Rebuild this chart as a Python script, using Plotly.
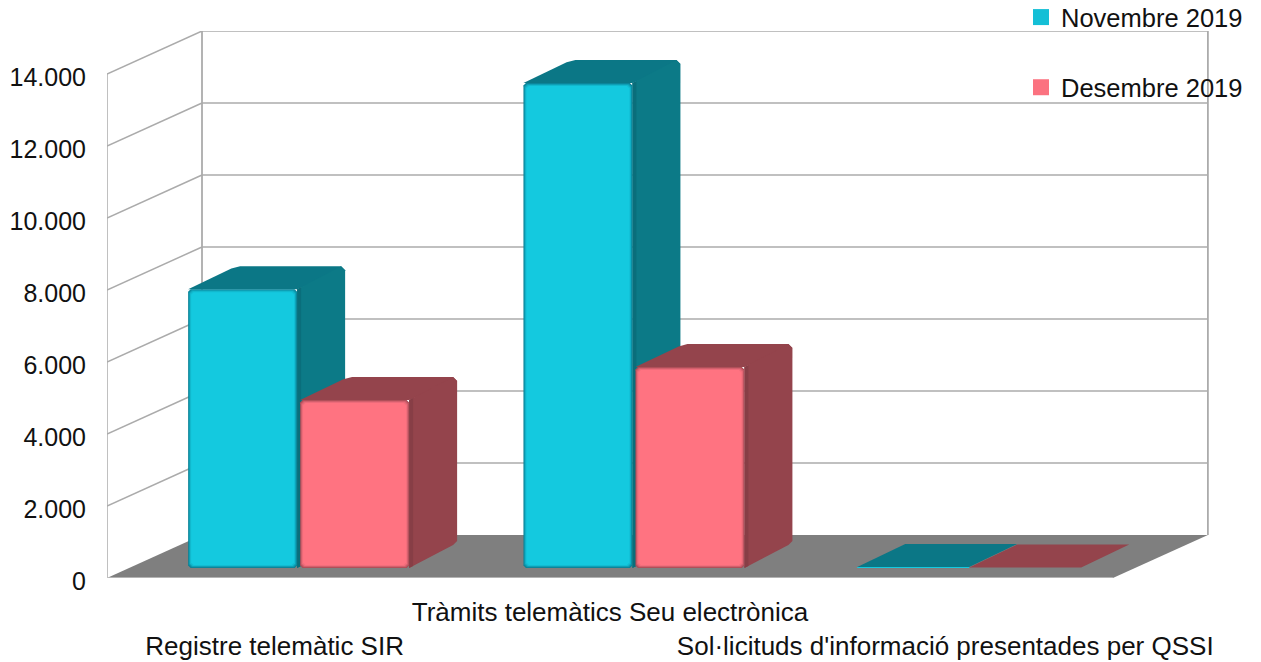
import plotly.graph_objects as go

# Chart data
categories = ["Registre telemàtic SIR", "Tràmits telemàtics Seu electrònica",
              "Sol·licituds d'informació presentades per QSSI"]
nov_2019 = [7745, 13470, 30]
des_2019 = [4665, 5580, 10]
y_ticks = [0, 2000, 4000, 6000, 8000, 10000, 12000, 14000]
y_tick_labels = ["0", "2.000", "4.000", "6.000", "8.000", "10.000", "12.000", "14.000"]

# Plot box and oblique projection
WIDTH, HEIGHT = 1261, 662
LEFT, RIGHT_EDGE, TOP, BOTTOM = 107, 1209, 31, 578
PX_PER_CAT = 335.3
PX_PER_VAL = 0.036
DEPTH_X = 95 / PX_PER_CAT     # horizontal shift of the back wall, in category units
DEPTH_V = 43 / PX_PER_VAL     # vertical shift of the back wall, in value units
N_CATS = 3
FONT = "Liberation Sans"
GRID = "#ababab"

BAR_D0 = 0.233                # depth at which the bars' front faces stand
BAR_DX = 48 / PX_PER_CAT      # horizontal reach of a bar's side face
BAR_DV = 23 / PX_PER_VAL      # vertical reach of a bar's top face
BAR_W = 0.325
SERIES_OFFSET = [0.176, 0.510]

STYLES = [
    dict(name="Novembre 2019", legend="#14bfd6",
         front=["#0b8194", "#0d95aa", "#10aac0", "#12bcd2", "#14c9df"],
         top="#0b7786", side="#0c7a87", shade="#0a6e7b"),
    dict(name="Desembre 2019", legend="#fb7280",
         front=["#a94c56", "#c65a66", "#de6573", "#f26e7c", "#ff7381"],
         top="#94444c", side="#94444c", shade="#873e46"),
]


def proj(u, v, d):
    return u + d * DEPTH_X, v + d * DEPTH_V


def px_u(p):
    return p / PX_PER_CAT


def px_v(p):
    return p / PX_PER_VAL


def polygon(points, color):
    xs = [p[0] for p in points] + [points[0][0]]
    ys = [p[1] for p in points] + [points[0][1]]
    return go.Scatter(x=xs, y=ys, mode="lines", fill="toself", fillcolor=color,
                      line=dict(color=color, width=0),
                      hoverinfo="skip", showlegend=False)


def segment(p, q, color=GRID, width=1.5):
    return go.Scatter(x=[p[0], q[0]], y=[p[1], q[1]], mode="lines",
                      line=dict(color=color, width=width), hoverinfo="skip", showlegend=False)


def rounded_rect(x0, y0, x1, y1, r):
    cx, cy = px_u(r), px_v(r)
    return [(x0 + cx, y0), (x1 - cx, y0), (x1, y0 + cy), (x1, y1 - cy),
            (x1 - cx, y1), (x0 + cx, y1), (x0, y1 - cy), (x0, y0 + cy)]


fig = go.Figure()
x_max = N_CATS

# Floor
fig.add_trace(polygon([proj(0, 0, 0), proj(x_max, 0, 0), proj(x_max, 0, 1), proj(0, 0, 1)], "#7f7f7f"))

# Walls: gridlines run along the side wall and then across the back wall
for v in y_ticks:
    if v > 0:
        fig.add_trace(segment(proj(0, v, 0), proj(0, v, 1)))
        fig.add_trace(segment(proj(0, v, 1), proj(x_max, v, 1)))
fig.add_trace(segment(proj(0, 0, 0), proj(0, y_ticks[-1], 0)))
fig.add_trace(segment(proj(0, 0, 1), proj(0, y_ticks[-1], 1), width=1.8))
fig.add_trace(segment(proj(x_max, 0, 1), proj(x_max, y_ticks[-1], 1), width=1.8))
fig.add_trace(segment(proj(0, 0, 0), proj(x_max, 0, 0), color="#c4c4c4"))

# Bars, painted left to right so each one covers the side of its neighbour
for c in range(N_CATS):
    for s, values in enumerate([nov_2019, des_2019]):
        st = STYLES[s]
        v = values[c]
        u0 = c + SERIES_OFFSET[s]
        u1 = u0 + BAR_W
        fx0, fy0 = proj(u0, 0, BAR_D0)
        fx1, fy1 = proj(u1, v, BAR_D0)
        tall = (fy1 - fy0) * PX_PER_VAL > 12
        if not tall:
            # Near-zero bars have no visible bevel, so the gap between them closes
            fx0 -= px_u(1.5)
            fx1 += px_u(1.5)
        bx0, bx1 = fx0 + BAR_DX, fx1 + BAR_DX
        by0, by1 = fy0 + BAR_DV, fy1 + BAR_DV
        cx, cy = px_u(4), px_v(4)
        if tall:
            # Rounded back-left corner: step back along the slanted edge, then across the top
            top_face = [(fx0, fy1), (bx0 - 0.1 * BAR_DX, by1 - 0.1 * BAR_DV),
                        (bx0 + cx, by1), (bx1 - cx, by1), (bx1, by1 - cy), (fx1, fy1)]
        else:
            top_face = [(fx0, fy1), (bx0, by1), (bx1, by1), (fx1, fy1)]
        fig.add_trace(polygon(top_face, st["top"]))
        if tall:
            side_face = [(fx1, fy1), (bx1 - cx, by1), (bx1, by1 - cy), (bx1, by0 + cy),
                         (bx1 - cx, by0), (fx1, fy0)]
            fig.add_trace(polygon(side_face, st["side"]))
            # Darker band where the side face meets the front
            sx = px_u(4)
            sv = sx / BAR_DX * BAR_DV
            fig.add_trace(polygon([(fx1, fy1), (fx1 + sx, fy1 + sv), (fx1 + sx, fy0 + sv), (fx1, fy0)],
                                  st["shade"]))
            # Soft bevel on the front face, stepping from the rim to the centre
            for inset, colour in zip([0, 0.7, 1.4, 2.1, 3], st["front"]):
                ix, iy = px_u(inset), px_v(inset)
                fig.add_trace(polygon(
                    rounded_rect(fx0 + ix, fy0 + iy, fx1 - ix, fy1 - iy, 2.5), colour))
        else:
            fig.add_trace(polygon([(fx0, fy0), (fx1, fy0), (fx1, fy1), (fx0, fy1)], st["front"][4]))

# Legend entries
for st in STYLES:
    fig.add_trace(go.Scatter(x=[None], y=[None], mode="markers", name=st["name"],
                             legendgroup=st["name"],
                             marker=dict(symbol="square", size=16, color=st["legend"]),
                             hoverinfo="skip"))

fig.update_layout(
    width=WIDTH, height=HEIGHT,
    margin=dict(l=LEFT, r=WIDTH - RIGHT_EDGE, t=TOP, b=HEIGHT - BOTTOM, pad=0, autoexpand=False),
    paper_bgcolor="white", plot_bgcolor="white",
    font=dict(family=FONT, size=24, color="#111111"),
    showlegend=True,
    legend=dict(x=(1021 - LEFT) / (RIGHT_EDGE - LEFT), y=1 + 37 / (BOTTOM - TOP),
                xanchor="left", yanchor="top", bgcolor="rgba(0,0,0,0)",
                tracegroupgap=34, itemsizing="trace", itemwidth=30,
                font=dict(family=FONT, size=25.5, color="#111111")),
    xaxis=dict(range=[0, (RIGHT_EDGE - LEFT) / PX_PER_CAT], showgrid=False, zeroline=False,
               showline=False, tickmode="array", tickvals=[0.5, 1.5, 2.5], automargin=False,
               ticktext=["<br>" + categories[0], categories[1], "<br>" + categories[2]],
               tickangle=0, ticks="outside", ticklen=11, tickcolor="rgba(0,0,0,0)",
               tickfont=dict(family=FONT, size=26, color="#111111"), fixedrange=True),
    yaxis=dict(range=[0, y_ticks[-1] + DEPTH_V], showgrid=False, zeroline=False, automargin=False,
               showline=False, tickmode="array", tickvals=y_ticks, ticktext=y_tick_labels,
               ticks="outside", ticklen=15, tickcolor="rgba(0,0,0,0)", ticklabelshift=3,
               tickfont=dict(family=FONT, size=25, color="#111111"), fixedrange=True),
)

fig.write_html("out.html", config={"displayModeBar": False})
